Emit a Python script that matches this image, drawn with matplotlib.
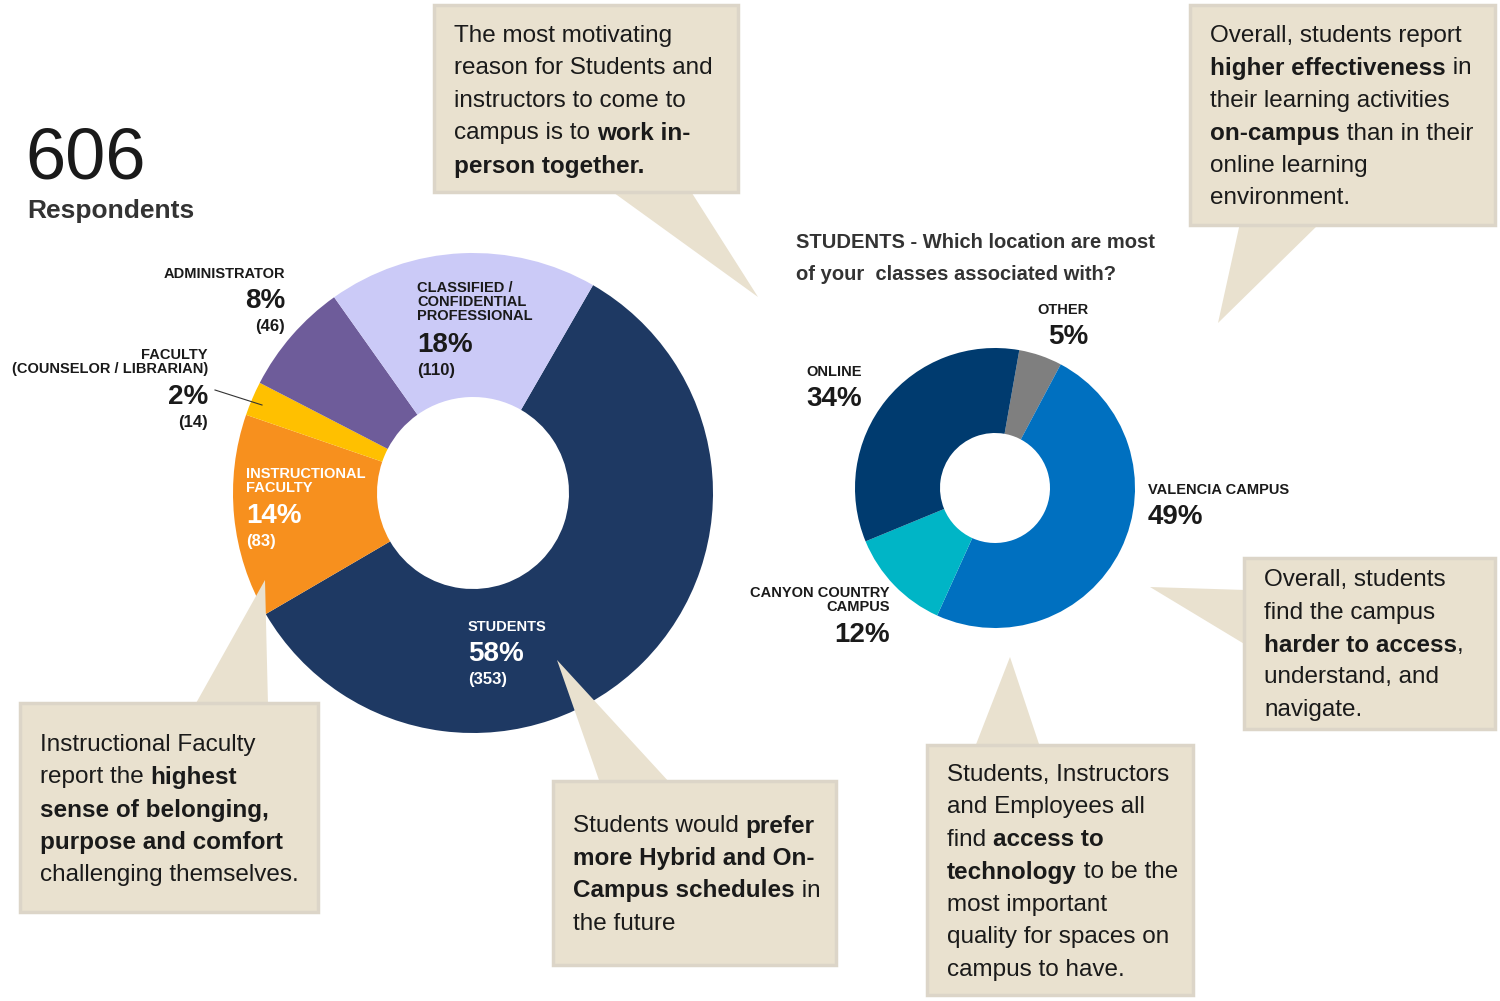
import matplotlib.pyplot as plt
from matplotlib.patches import Rectangle, Polygon

plt.rcParams['font.family'] = ['Liberation Sans Narrow', 'Liberation Sans', 'DejaVu Sans']

# data
role_names = ["STUDENTS", "INSTRUCTIONAL\nFACULTY", "FACULTY\n(COUNSELOR / LIBRARIAN)",
              "ADMINISTRATOR", "CLASSIFIED /\nCONFIDENTIAL\nPROFESSIONAL"]
role_counts = [353, 83, 14, 46, 110]
role_pcts = ["58%", "14%", "2%", "8%", "18%"]
role_colors = ["#1e3963", "#f7901e", "#ffc000", "#6e5c9a", "#cbcaf7"]

loc_names = ["OTHER", "VALENCIA CAMPUS", "CANYON COUNTRY\nCAMPUS", "ONLINE"]
loc_pcts = [5, 49, 12, 34]
loc_colors = ["#7f7f7f", "#0070c0", "#00b5c6", "#003b6f"]

W, H = 1500, 1001
fig = plt.figure(figsize=(15, 10.01), dpi=100)
ax = fig.add_axes([0, 0, 1, 1])

# donuts (y axis is flipped below, so angles are mirrored)
ax.pie(role_counts, colors=role_colors, startangle=-60, counterclock=True,
       center=(473, 493), radius=240, wedgeprops=dict(width=144, linewidth=0))
ax.pie(loc_pcts, colors=loc_colors, startangle=-80, counterclock=True,
       center=(995, 488), radius=140, wedgeprops=dict(width=85, linewidth=0))
ax.set_xlim(0, W)
ax.set_ylim(H, 0)
ax.set_aspect("equal")
ax.axis("off")

dark = "#1a1a1a"
ax.text(25, 160, "606", fontsize=52, color=dark, va="center", family=["Liberation Sans", "DejaVu Sans"])
ax.text(27, 211, "Respondents", fontsize=19, fontweight="bold", color="#333333", va="center",
        family=["Liberation Sans", "DejaVu Sans"])

lab = dict(family=["Liberation Sans", "DejaVu Sans"], fontweight="bold")


def slice_label(x, y, name, pct, cnt, ha, color=dark, nsz=10.5, psz=20):
    n_lines = name.count("\n") + 1
    ax.text(x, y, name, ha=ha, va="top", fontsize=nsz, color=color, linespacing=1.0, **lab)
    y2 = y + n_lines * 15 + 6
    ax.text(x, y2, pct, ha=ha, va="top", fontsize=psz, color=color, **lab)
    if cnt:
        ax.text(x, y2 + 31, cnt, ha=ha, va="top", fontsize=12, color=color, **lab)


slice_label(468, 620, role_names[0], role_pcts[0], "(353)", "left", "white")
slice_label(246, 467, role_names[1], role_pcts[1], "(83)", "left", "white")
slice_label(208, 348, role_names[2], role_pcts[2], "(14)", "right")
slice_label(285, 267, role_names[3], role_pcts[3], "(46)", "right")
slice_label(417, 281, role_names[4], role_pcts[4], "(110)", "left")
ax.plot([215, 262], [390, 405], color="#333333", lw=0.8)

ax.text(796, 243, "STUDENTS - Which location are most", fontsize=14.5, color="#333333",
        va="center", **lab)
ax.text(796, 274, "of your  classes associated with?", fontsize=14.5, color="#333333",
        va="center", **lab)

slice_label(1088, 303, loc_names[0], "5%", None, "right")
slice_label(1148, 483, loc_names[1], "49%", None, "left")
slice_label(890, 586, loc_names[2], "12%", None, "right")
slice_label(862, 365, loc_names[3], "34%", None, "right")

# callouts
box_face = "#e9e1cf"
box_edge = "#dcd5c8"
renderer = fig.canvas.get_renderer()


def callout(x0, y0, x1, y1, tail, lines, tx, ty, step=32.5):
    ax.add_patch(Polygon(tail, closed=True, facecolor=box_face, edgecolor="none", zorder=2))
    ax.add_patch(Rectangle((x0, y0), x1 - x0, y1 - y0, facecolor=box_face,
                           edgecolor=box_edge, lw=2.5, zorder=3))
    for i, line in enumerate(lines):
        x = tx
        y = ty + i * step
        for j, seg in enumerate(line.split("**")):
            if not seg:
                continue
            t = ax.text(x, y, seg, fontsize=17.5, color=dark, va="center", ha="left",
                        fontweight="bold" if j % 2 else "normal", zorder=4)
            bb = t.get_window_extent(renderer)
            x += bb.width


callout(434, 5, 738, 192, [(610, 190), (690, 190), (758, 297)],
        ["The most motivating", "reason for Students and", "instructors to come to",
         "campus is to **work in-**", "**person together.**"], 454, 36)
callout(1190, 5, 1495, 225, [(1240, 223), (1320, 223), (1218, 323)],
        ["Overall, students report", "**higher effectiveness** in", "their learning activities",
         "**on-campus** than in their", "online learning", "environment."], 1210, 36)
callout(20, 703, 318, 912, [(195, 705), (268, 705), (265, 580)],
        ["Instructional Faculty", "report the **highest**", "**sense of belonging,**",
         "**purpose and comfort**", "challenging themselves."], 40, 745)
callout(553, 781, 836, 965, [(600, 783), (670, 783), (557, 660)],
        ["Students would **prefer**", "**more Hybrid and On-**", "**Campus schedules** in",
         "the future"], 573, 826)
callout(1244, 558, 1495, 729, [(1246, 590), (1246, 645), (1150, 587)],
        ["Overall, students", "find the campus", "**harder to access**,",
         "understand, and", "navigate."], 1264, 580)
callout(927, 745, 1193, 995, [(975, 747), (1040, 747), (1010, 657)],
        ["Students, Instructors", "and Employees all", "find **access to**",
         "**technology** to be the", "most important", "quality for spaces on",
         "campus to have."], 947, 775)

fig.savefig("out.png", dpi=100, facecolor="white")
